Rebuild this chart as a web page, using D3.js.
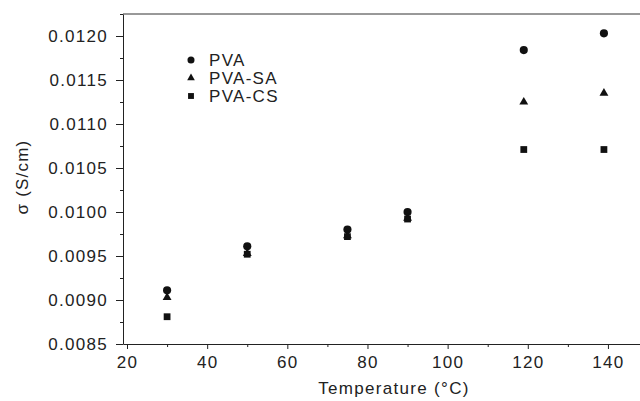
<!DOCTYPE html>
<html>
<head>
<meta charset="utf-8">
<script src="https://cdn.jsdelivr.net/npm/d3@7.9.0/dist/d3.min.js"></script>
<style>
  body { margin: 0; background: #fff; }
  svg { display: block; font-family: 'Liberation Sans', Arial, sans-serif; }
  .axis text { font-size: 17px; fill: #222; letter-spacing: 1.3px; }
  .axis path, .axis line { stroke: #222; }
</style>
</head>
<body>
<svg id="chart" width="640" height="401"></svg>
<script>
// temperatures (°C) and conductivity (S/cm)
const temps = [30, 50, 75, 90, 119, 139];
const pva = [0.00911, 0.00961, 0.00980, 0.01000, 0.01184, 0.01203];
const pvaSA = [0.00903, 0.00953, 0.00973, 0.00993, 0.01125, 0.01135];
const pvaCS = [0.00881, 0.00952, 0.00972, 0.00992, 0.01071, 0.01071];

const seriesNames = ['PVA', 'PVA-SA', 'PVA-CS'];
const xTicks = [20, 40, 60, 80, 100, 120, 140];
const xMinor = [30, 50, 70, 90, 110, 130];
const yTicks = [0.0085, 0.0090, 0.0095, 0.0100, 0.0105, 0.0110, 0.0115, 0.0120];
const yMinor = [0.00875, 0.00925, 0.00975, 0.01025, 0.01075, 0.01125, 0.01175, 0.01225];

const svg = d3.select('#chart');

const x = d3.scaleLinear().domain([19, 148]).range([123, 640]);
const y = d3.scaleLinear().domain([0.0085, 0.01225]).range([344, 14]);

// ========================
// Axes
// ========================

svg.append('g')
  .attr('class', 'axis')
  .attr('transform', 'translate(0,344)')
  .call(d3.axisBottom(x).tickValues(xTicks).tickSize(5).tickSizeOuter(0).tickPadding(7));

svg.append('g')
  .attr('class', 'axis')
  .attr('transform', 'translate(0,344)')
  .call(d3.axisBottom(x).tickValues(xMinor).tickSize(3).tickSizeOuter(0).tickFormat(''))
  .select('.domain').remove();

svg.append('g')
  .attr('class', 'axis')
  .attr('transform', 'translate(123,0)')
  .call(d3.axisLeft(y).tickValues(yTicks).tickSize(7).tickSizeOuter(0).tickPadding(8)
    .tickFormat(d3.format('.4f')));

svg.append('g')
  .attr('class', 'axis')
  .attr('transform', 'translate(123,0)')
  .call(d3.axisLeft(y).tickValues(yMinor).tickSize(3).tickSizeOuter(0).tickFormat(''))
  .select('.domain').remove();

// top frame line
svg.append('line')
  .attr('x1', x.range()[0]).attr('x2', x.range()[1])
  .attr('y1', y.range()[1]).attr('y2', y.range()[1])
  .attr('stroke', '#333');

// axis titles
svg.append('text')
  .attr('x', 394).attr('y', 394)
  .attr('text-anchor', 'middle')
  .style('font-size', '17px').style('letter-spacing', '1.3px').style('fill', '#222')
  .text('Temperature (°C)');

svg.append('text')
  .attr('transform', 'translate(28,177) rotate(-90)')
  .attr('text-anchor', 'middle')
  .style('font-size', '17px').style('letter-spacing', '1.2px').style('fill', '#222')
  .text('σ (S/cm)');

// ========================
// Points
// ========================

const symbols = [d3.symbolCircle, d3.symbolTriangle, d3.symbolSquare];
const sizes = [52, 34, 46];
const allSeries = [pva, pvaSA, pvaCS];

allSeries.forEach((vals, i) => {
  svg.append('g')
    .selectAll('path')
    .data(temps.map((t, j) => ({ t, v: vals[j] })))
    .join('path')
    .attr('transform', (d) => `translate(${x(d.t)},${y(d.v)})`)
    .attr('d', d3.symbol().type(symbols[i]).size(sizes[i]))
    .attr('fill', '#111');
});

// ========================
// Legend
// ========================

const legend = svg.append('g').attr('transform', 'translate(191,60)');
seriesNames.forEach((name, i) => {
  const row = legend.append('g').attr('transform', `translate(0,${i * 18})`);
  row.append('path')
    .attr('d', d3.symbol().type(symbols[i]).size(sizes[i] * 0.75))
    .attr('fill', '#111');
  row.append('text')
    .attr('x', 18).attr('y', 6)
    .style('font-size', '17px').style('letter-spacing', '1.3px').style('fill', '#222')
    .text(name);
});
</script>
</body>
</html>
